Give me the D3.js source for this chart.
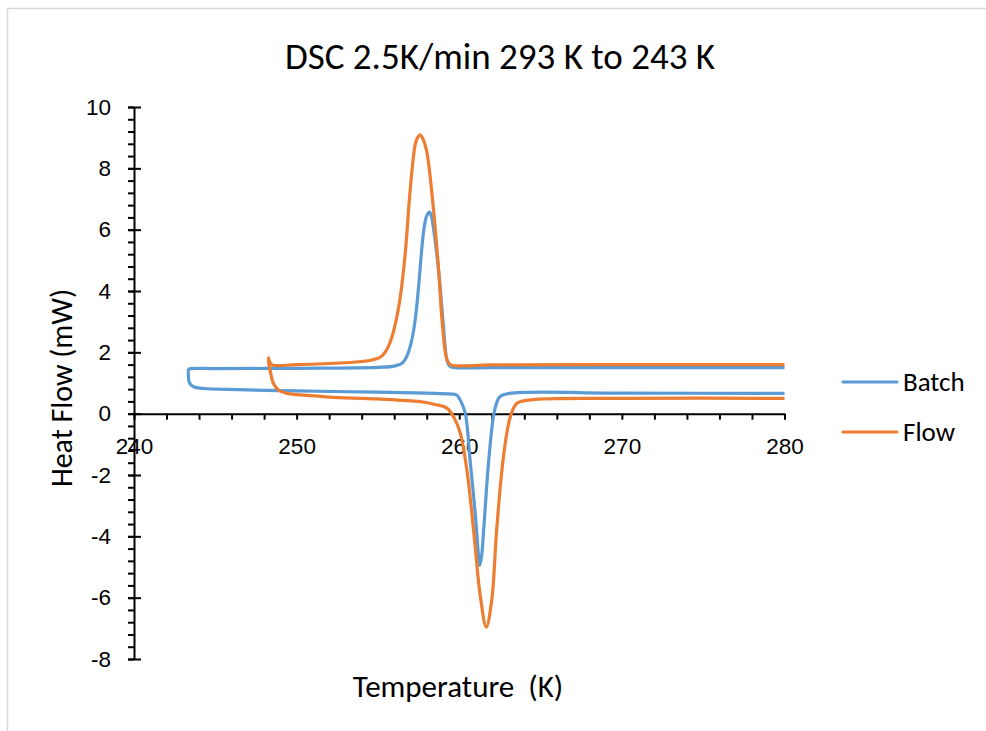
<!doctype html>
<html lang="en">
  <head>
    <meta charset="UTF-8" />
    <title>DSC 2.5K/min 293 K to 243 K</title>
    <script src="https://d3js.org/d3.v7.min.js"></script>
    <style>
      html,
      body {
        margin: 0;
        padding: 0;
        background: #fff;
        overflow: hidden;
      }

      svg {
        display: block;
        font-family: Carlito, Lato, "Open Sans", sans-serif;
      }

      .tick text {
        font-size: 22.5px;
        fill: #000;
      }
    </style>
  </head>
  <body>
    <svg id="chart" width="986" height="731"></svg>

    <script>
      // Batch trace: cooling along the upper line (right to left), then heating back
      const batchT = [
        285, 280, 270, 262, 259.6, 259.4, 259.24, 259.03, 258.73, 258.4, 258.28, 258.17, 258.0, 257.85, 257.7,
        257.5, 257.3, 257.08, 256.8, 256.5, 256.0, 255, 250, 245, 243.5, 243.36, 243.34, 243.38, 243.5, 243.75,
        244.3, 245.8, 250, 255, 258, 259.5, 259.86, 260.1, 260.37, 260.68, 260.98, 261.15, 261.25, 261.36, 261.5,
        261.8, 262.1, 262.3, 262.5, 263.1, 270, 280, 285
      ];
      const batchHF = [
        1.5, 1.5, 1.5, 1.5, 1.51, 1.56, 1.75, 2.84, 4.68, 6.1, 6.45, 6.57, 6.45, 6.1, 5.4,
        4.14, 3.1, 2.4, 1.9, 1.65, 1.55, 1.51, 1.48, 1.47, 1.47, 1.44, 1.3, 1.05, 0.94, 0.86,
        0.82, 0.79, 0.74, 0.7, 0.67, 0.64, 0.6, 0.4, 0.02, -1.6, -3.24, -4.4, -4.95, -4.7, -3.8,
        -1.6, -0.1, 0.35, 0.55, 0.66, 0.67, 0.66, 0.66
      ];

      // Flow trace
      const flowT = [
        285, 280, 270, 262, 259.5, 259.3, 259.15, 258.94, 258.73, 258.4, 258.0, 257.75, 257.6, 257.45, 257.3,
        257.0, 256.68, 256.4, 256.1, 255.8, 255.5, 255.14, 254.7, 254, 253, 250, 248.5, 248.32, 248.27, 248.3,
        248.37, 248.57, 248.88, 249.4, 251.2, 252, 255, 257.6, 258.5, 259.24, 259.7, 260.06, 260.47, 260.88, 261.3,
        261.66, 262.0, 262.3, 262.72, 263.14, 263.55, 264.37, 270, 280, 285
      ];
      const flowHF = [
        1.6, 1.6, 1.6, 1.59, 1.59, 1.7, 1.98, 3.05, 4.68, 6.75, 8.55, 8.98, 9.09, 9.02, 8.8,
        7.4, 5.24, 3.9, 3.0, 2.4, 2.05, 1.84, 1.76, 1.7, 1.66, 1.6, 1.59, 1.72, 1.82, 1.6,
        1.42, 0.99, 0.77, 0.66, 0.58, 0.54, 0.48, 0.39, 0.3, 0.18, -0.15, -0.63, -1.84, -3.79, -5.97,
        -6.96, -6.07, -3.79, -1.4, -0.1, 0.34, 0.45, 0.5, 0.5, 0.5
      ];

      const seriesNames = ["Batch", "Flow"];
      const seriesColors = ["#5B9BD5", "#ED7D31"];
      const xMajorTicks = [240, 250, 260, 270, 280];
      const yMajorTicks = [-8, -6, -4, -2, 0, 2, 4, 6, 8, 10];

      const svg = d3.select("#chart");

      // chart area border (only top and left edges fall inside the picture)
      svg.append("rect")
        .attr("x", 7.5).attr("y", 8.5)
        .attr("width", 1200).attr("height", 1200)
        .attr("fill", "none").attr("stroke", "#d9d9d9").attr("stroke-width", 1.5);

      const plotLeft = 134, plotRight = 784.5, plotTop = 107, plotBottom = 659;

      const x = d3.scaleLinear().domain([240, 280]).range([plotLeft, plotRight]);
      const y = d3.scaleLinear().domain([-8, 10]).range([plotBottom, plotTop]);

      // y axis: minor ticks on the left, major ticks crossing
      const yMinor = svg.append("g")
        .attr("transform", `translate(${x(240)},0)`)
        .call(d3.axisLeft(y).tickValues(d3.range(-8, 10.001, 0.4)).tickSize(6).tickFormat(""));
      yMinor.select(".domain").remove();

      const yAxis = svg.append("g")
        .attr("transform", `translate(${x(240)},0)`)
        .call(d3.axisLeft(y).tickValues(yMajorTicks).tickSize(6).tickSizeOuter(0).tickPadding(17)
          .tickFormat((d) => String(d)));
      yAxis.selectAll(".tick line").attr("x2", -6).attr("x1", 7);

      // x axis at y = 0, all ticks downward
      svg.append("g")
        .attr("transform", `translate(0,${y(0)})`)
        .call(d3.axisBottom(x).tickValues(d3.range(240, 280.001, 2)).tickSize(6).tickSizeOuter(0).tickFormat(""));
      const xLabels = svg.append("g")
        .attr("transform", `translate(0,${y(0)})`)
        .call(d3.axisBottom(x).tickValues(xMajorTicks).tickSize(0).tickPadding(24));
      xLabels.select(".domain").remove();

      svg.selectAll(".domain, .tick line")
        .attr("stroke", "#000").attr("stroke-width", 2);

      svg.append("clipPath").attr("id", "plot-clip")
        .append("rect")
        .attr("x", plotLeft).attr("y", 0)
        .attr("width", plotRight - plotLeft).attr("height", 731);

      const line = d3.line()
        .x((d) => x(d[0]))
        .y((d) => y(d[1]))
        .curve(d3.curveCatmullRom.alpha(0.5));

      const series = [
        d3.zip(batchT, batchHF),
        d3.zip(flowT, flowHF)
      ];

      svg.append("g").attr("clip-path", "url(#plot-clip)")
        .selectAll("path")
        .data(series)
        .enter()
        .append("path")
        .attr("d", line)
        .attr("fill", "none")
        .attr("stroke", (d, i) => seriesColors[i])
        .attr("stroke-width", 3.2)
        .attr("stroke-linejoin", "round")
        .attr("stroke-linecap", "round");

      // title and axis titles
      svg.append("text")
        .attr("x", 500).attr("y", 69)
        .attr("text-anchor", "middle")
        .style("font-size", "37px")
        .text("DSC 2.5K/min 293 K to 243 K");

      svg.append("text")
        .attr("transform", "translate(72,388) rotate(-90)")
        .attr("text-anchor", "middle")
        .style("font-size", "30px")
        .text("Heat Flow (mW)");

      svg.append("text")
        .attr("x", 458).attr("y", 697)
        .attr("text-anchor", "middle")
        .style("font-size", "31px")
        .style("white-space", "pre")
        .text("Temperature  (K)");

      // legend
      const legend = svg.append("g")
        .selectAll("g")
        .data(seriesNames)
        .enter()
        .append("g")
        .attr("transform", (d, i) => `translate(843,${382 + i * 50})`);

      legend.append("line")
        .attr("x1", 0).attr("x2", 54)
        .attr("stroke", (d, i) => seriesColors[i])
        .attr("stroke-width", 3.2)
        .attr("stroke-linecap", "round");

      legend.append("text")
        .attr("x", 60).attr("dy", "0.35em")
        .style("font-size", "27px")
        .text((d) => d);
    </script>
  </body>
</html>
